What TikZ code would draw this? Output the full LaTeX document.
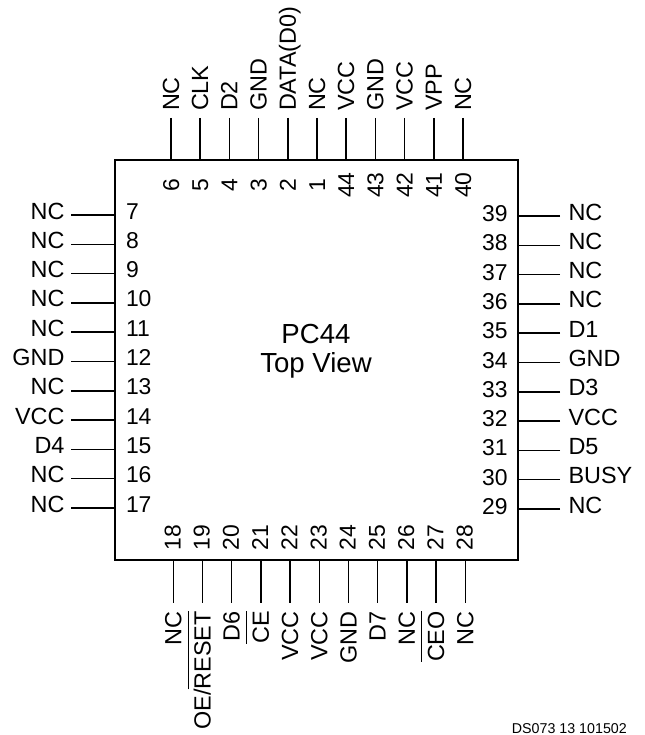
\documentclass[tikz,border=0pt]{standalone}
\usepackage{fontspec}
\setmainfont{Liberation Sans}
\usetikzlibrary{positioning}
\newcommand{\barred}[1]{\setbox0=\hbox{#1}\rlap{\raisebox{22bp}{\rule{\wd0}{1bp}}}\box0}

\begin{document}
\begin{tikzpicture}[x=1bp,y=-1bp,
  node distance=5.3bp,
  chip/.style={
  % The shape:
  rectangle,
  minimum width=403bp,
  minimum height=400bp,
  % The border:
  line width=1.8bp,
  draw=black
  },
  wire/.style={line width=1.5bp},
  num/.style={
  % The size:
  inner sep=0pt,
  outer sep=0pt,
  text height=16bp,
  text depth=0pt,
  font=\fontsize{23}{23}\selectfont
  },
  sig/.style={
  inner sep=0pt,
  outer ysep=0pt,
  text height=16bp,
  text depth=0pt,
  font=\fontsize{23.5}{23.5}\selectfont
  },
  % pins on the top and the bottom read upwards
  upnum/.style={num,rotate=90},
  upsig/.style={sig,rotate=90,anchor=west,outer xsep=7bp},
  downsig/.style={sig,rotate=90,anchor=east,outer xsep=8.5bp},
  % text on the sides stands a little above its wire
  leftsig/.style={sig,text depth=8bp,anchor=east,outer xsep=6.5bp},
  rightsig/.style={sig,text depth=8bp,anchor=west,outer xsep=8.5bp},
  leftnum/.style={num,text depth=8bp,anchor=west},
  rightnum/.style={num,text depth=5bp,anchor=east}]
  \useasboundingbox (0,0) rectangle (645,735);
  \node (chip) [chip] at (316.3,360) {};
  \node (title) [font=\fontsize{27.7}{29.5}\selectfont,align=center] at (316,351) {PC44\\ Top View};
  \node (code) [font=\fontsize{14.3}{14.3}\selectfont,anchor=base east,inner sep=0pt] at (627,733) {DS073 13 101502};

  % top side
  \node (n6) [upnum] at (171,185) {6};
  \node (n5) [upnum] at (200.2,185) {5};
  \node (n4) [upnum] at (229.4,185) {4};
  \node (n3) [upnum] at (258.6,185) {3};
  \node (n2) [upnum] at (287.8,185) {2};
  \node (n1) [upnum] at (317,185) {1};
  \node (n44) [upnum] at (346.2,185) {44};
  \node (n43) [upnum] at (375.4,185) {43};
  \node (n42) [upnum] at (404.6,185) {42};
  \node (n41) [upnum] at (433.8,185) {41};
  \node (n40) [upnum] at (463,185) {40};

  \node (s6) [upsig] at (171,118) {NC};
  \node (s5) [upsig] at (200.2,118) {CLK};
  \node (s4) [upsig] at (229.4,118) {D2};
  \node (s3) [upsig] at (258.6,118) {GND};
  \node (s2) [upsig] at (287.8,118) {DATA(D0)};
  \node (s1) [upsig] at (317,118) {NC};
  \node (s44) [upsig] at (346.2,118) {VCC};
  \node (s43) [upsig] at (375.4,118) {GND};
  \node (s42) [upsig] at (404.6,118) {VCC};
  \node (s41) [upsig] at (433.8,118) {VPP};
  \node (s40) [upsig] at (463,118) {NC};

  \draw[wire] (s6) to (s6 |- chip.north);
  \draw[wire] (s5) to (s5 |- chip.north);
  \draw[wire] (s4) to (s4 |- chip.north);
  \draw[wire] (s3) to (s3 |- chip.north);
  \draw[wire] (s2) to (s2 |- chip.north);
  \draw[wire] (s1) to (s1 |- chip.north);
  \draw[wire] (s44) to (s44 |- chip.north);
  \draw[wire] (s43) to (s43 |- chip.north);
  \draw[wire] (s42) to (s42 |- chip.north);
  \draw[wire] (s41) to (s41 |- chip.north);
  \draw[wire] (s40) to (s40 |- chip.north);

  % bottom side
  \node (n18) [upnum] at (172.5,537.5) {18};
  \node (n19) [upnum] at (201.7,537.5) {19};
  \node (n20) [upnum] at (230.9,537.5) {20};
  \node (n21) [upnum] at (260.1,537.5) {21};
  \node (n22) [upnum] at (289.3,537.5) {22};
  \node (n23) [upnum] at (318.5,537.5) {23};
  \node (n24) [upnum] at (347.7,537.5) {24};
  \node (n25) [upnum] at (376.9,537.5) {25};
  \node (n26) [upnum] at (406.1,537.5) {26};
  \node (n27) [upnum] at (435.3,537.5) {27};
  \node (n28) [upnum] at (464.5,537.5) {28};

  \node (s18) [downsig] at (173.3,602.7) {NC};
  \node (s19) [downsig] at (202.5,602.7) {OE/\barred{RESET}};
  \node (s20) [downsig] at (231.7,602.7) {D6};
  \node (s21) [downsig] at (260.9,602.7) {\barred{CE}};
  \node (s22) [downsig] at (290.1,602.7) {VCC};
  \node (s23) [downsig] at (319.3,602.7) {VCC};
  \node (s24) [downsig] at (348.5,602.7) {GND};
  \node (s25) [downsig] at (377.7,602.7) {D7};
  \node (s26) [downsig] at (406.9,602.7) {NC};
  \node (s27) [downsig] at (436.1,602.7) {\barred{CEO}};
  \node (s28) [downsig] at (465.3,602.7) {NC};

  \draw[wire] (s18) to (s18 |- chip.south);
  \draw[wire] (s19) to (s19 |- chip.south);
  \draw[wire] (s20) to (s20 |- chip.south);
  \draw[wire] (s21) to (s21 |- chip.south);
  \draw[wire] (s22) to (s22 |- chip.south);
  \draw[wire] (s23) to (s23 |- chip.south);
  \draw[wire] (s24) to (s24 |- chip.south);
  \draw[wire] (s25) to (s25 |- chip.south);
  \draw[wire] (s26) to (s26 |- chip.south);
  \draw[wire] (s27) to (s27 |- chip.south);
  \draw[wire] (s28) to (s28 |- chip.south);

  % left side
  \node (s7) [leftsig] at (71,215) {NC};
  \node (s8) [leftsig,below=of s7.south east,anchor=north east] {NC};
  \node (s9) [leftsig,below=of s8.south east,anchor=north east] {NC};
  \node (s10) [leftsig,below=of s9.south east,anchor=north east] {NC};
  \node (s11) [leftsig,below=of s10.south east,anchor=north east] {NC};
  \node (s12) [leftsig,below=of s11.south east,anchor=north east] {GND};
  \node (s13) [leftsig,below=of s12.south east,anchor=north east] {NC};
  \node (s14) [leftsig,below=of s13.south east,anchor=north east] {VCC};
  \node (s15) [leftsig,below=of s14.south east,anchor=north east] {D4};
  \node (s16) [leftsig,below=of s15.south east,anchor=north east] {NC};
  \node (s17) [leftsig,below=of s16.south east,anchor=north east] {NC};

  \node (n7) [leftnum] at (126,215) {7};
  \node (n8) [leftnum] at (s8.east -| n7.west) {8};
  \node (n9) [leftnum] at (s9.east -| n7.west) {9};
  \node (n10) [leftnum] at (s10.east -| n7.west) {10};
  \node (n11) [leftnum] at (s11.east -| n7.west) {11};
  \node (n12) [leftnum] at (s12.east -| n7.west) {12};
  \node (n13) [leftnum] at (s13.east -| n7.west) {13};
  \node (n14) [leftnum] at (s14.east -| n7.west) {14};
  \node (n15) [leftnum] at (s15.east -| n7.west) {15};
  \node (n16) [leftnum] at (s16.east -| n7.west) {16};
  \node (n17) [leftnum] at (s17.east -| n7.west) {17};

  \draw[wire] (s7) to (s7 -| chip.west);
  \draw[wire] (s8) to (s8 -| chip.west);
  \draw[wire] (s9) to (s9 -| chip.west);
  \draw[wire] (s10) to (s10 -| chip.west);
  \draw[wire] (s11) to (s11 -| chip.west);
  \draw[wire] (s12) to (s12 -| chip.west);
  \draw[wire] (s13) to (s13 -| chip.west);
  \draw[wire] (s14) to (s14 -| chip.west);
  \draw[wire] (s15) to (s15 -| chip.west);
  \draw[wire] (s16) to (s16 -| chip.west);
  \draw[wire] (s17) to (s17 -| chip.west);

  % right side
  \node (s39) [rightsig] at (560,216) {NC};
  \node (s38) [rightsig,below=of s39.south west,anchor=north west] {NC};
  \node (s37) [rightsig,below=of s38.south west,anchor=north west] {NC};
  \node (s36) [rightsig,below=of s37.south west,anchor=north west] {NC};
  \node (s35) [rightsig,below=of s36.south west,anchor=north west] {D1};
  \node (s34) [rightsig,below=of s35.south west,anchor=north west] {GND};
  \node (s33) [rightsig,below=of s34.south west,anchor=north west] {D3};
  \node (s32) [rightsig,below=of s33.south west,anchor=north west] {VCC};
  \node (s31) [rightsig,below=of s32.south west,anchor=north west] {D5};
  \node (s30) [rightsig,below=of s31.south west,anchor=north west] {BUSY};
  \node (s29) [rightsig,below=of s30.south west,anchor=north west] {NC};

  \node (n39) [rightnum] at (507.7,216) {39};
  \node (n38) [rightnum] at (s38.west -| n39.east) {38};
  \node (n37) [rightnum] at (s37.west -| n39.east) {37};
  \node (n36) [rightnum] at (s36.west -| n39.east) {36};
  \node (n35) [rightnum] at (s35.west -| n39.east) {35};
  \node (n34) [rightnum] at (s34.west -| n39.east) {34};
  \node (n33) [rightnum] at (s33.west -| n39.east) {33};
  \node (n32) [rightnum] at (s32.west -| n39.east) {32};
  \node (n31) [rightnum] at (s31.west -| n39.east) {31};
  \node (n30) [rightnum] at (s30.west -| n39.east) {30};
  \node (n29) [rightnum] at (s29.west -| n39.east) {29};

  \draw[wire] (s39) to (s39 -| chip.east);
  \draw[wire] (s38) to (s38 -| chip.east);
  \draw[wire] (s37) to (s37 -| chip.east);
  \draw[wire] (s36) to (s36 -| chip.east);
  \draw[wire] (s35) to (s35 -| chip.east);
  \draw[wire] (s34) to (s34 -| chip.east);
  \draw[wire] (s33) to (s33 -| chip.east);
  \draw[wire] (s32) to (s32 -| chip.east);
  \draw[wire] (s31) to (s31 -| chip.east);
  \draw[wire] (s30) to (s30 -| chip.east);
  \draw[wire] (s29) to (s29 -| chip.east);
\end{tikzpicture}
\end{document}
